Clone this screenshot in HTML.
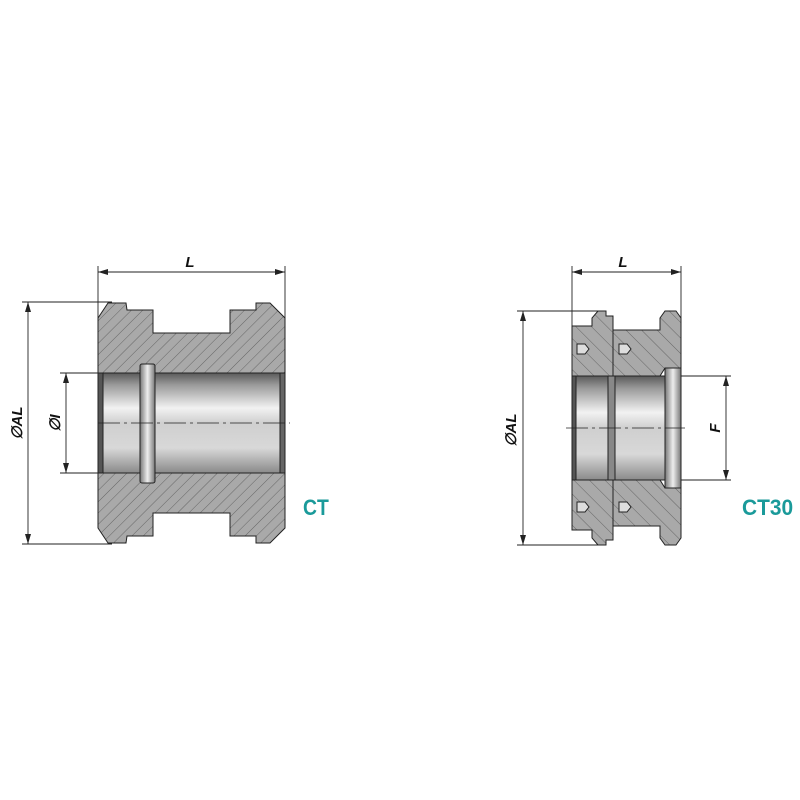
<!DOCTYPE html><html><head><style>body{margin:0;background:#fff}svg{display:block}</style></head><body>
<svg width="800" height="800" viewBox="0 0 800 800" xmlns="http://www.w3.org/2000/svg" font-family="Liberation Sans, sans-serif">
<defs>
<pattern id="h" width="8" height="8" patternUnits="userSpaceOnUse" patternTransform="rotate(45)"><rect width="8" height="8" fill="#a9a9a9"/><line x1="0" y1="0" x2="0" y2="8" stroke="#555" stroke-width="0.8"/></pattern>
<pattern id="h2" width="11" height="11" patternUnits="userSpaceOnUse" patternTransform="rotate(-45)"><rect width="11" height="11" fill="#a9a9a9"/><line x1="0" y1="0" x2="0" y2="11" stroke="#555" stroke-width="0.8"/></pattern>
<linearGradient id="g" x1="0" y1="0" x2="0" y2="1"><stop offset="0" stop-color="#5a5a5a"/><stop offset="0.12" stop-color="#9a9a9a"/><stop offset="0.35" stop-color="#f2f2f2"/><stop offset="0.5" stop-color="#cfcfcf"/><stop offset="0.75" stop-color="#d8d8d8"/><stop offset="1" stop-color="#8a8a8a"/></linearGradient>
<linearGradient id="gr" x1="0" y1="0" x2="1" y2="0"><stop offset="0" stop-color="#777"/><stop offset="0.5" stop-color="#eee"/><stop offset="1" stop-color="#777"/></linearGradient>
</defs>
<g stroke="#222" stroke-width="1">
<path d="M98,318 L108,303 L126,303 L127,310 L153,310 L153,333 L230,333 L230,310 L256,310 L256,303 L270,303 L285,318 L285,373 L98,373 Z" fill="url(#h)"/>
<path d="M98,528 L108,543 L126,543 L127,536 L153,536 L153,513 L230,513 L230,536 L256,536 L256,543 L270,543 L285,528 L285,473 L98,473 Z" fill="url(#h)"/>
<rect x="98" y="373" width="187" height="100" fill="url(#g)"/>
<rect x="98" y="373" width="5" height="100" fill="#555"/>
<rect x="280" y="373" width="5" height="100" fill="#666"/>
<rect x="140" y="364" width="15" height="119" rx="2" fill="url(#gr)"/>
<line x1="98" y1="423" x2="290" y2="423" stroke-dasharray="22,4,3,4" stroke-width="0.8"/>
<path d="M572,326 L592,326 L592,318 L598,311 L606,311 L606,316 L613,316 L613,376 L572,376 Z" fill="url(#h2)"/>
<path d="M572,530 L592,530 L592,538 L598,545 L606,545 L606,540 L613,540 L613,480 L572,480 Z" fill="url(#h2)"/>
<path d="M613,330 L660,330 L660,318 L665,311 L676,311 L681,318 L681,368 L665,368 L660,376 L613,376 Z" fill="url(#h2)"/>
<path d="M613,526 L660,526 L660,538 L665,545 L676,545 L681,538 L681,488 L665,488 L660,480 L613,480 Z" fill="url(#h2)"/>
<rect x="572" y="376" width="93" height="104" fill="url(#g)"/>
<rect x="572" y="376" width="4" height="104" fill="#555"/>
<rect x="608" y="376" width="7" height="104" fill="#888"/>
<rect x="665" y="368" width="16" height="120" fill="url(#gr)"/>
<g fill="#ddd">
<path d="M577,344 L585,344 L589,349 L585,354 L577,354 Z"/><path d="M619,344 L627,344 L631,349 L627,354 L619,354 Z"/>
<path d="M577,502 L585,502 L589,507 L585,512 L577,512 Z"/><path d="M619,502 L627,502 L631,507 L627,512 L619,512 Z"/>
</g>
<line x1="566" y1="428" x2="685" y2="428" stroke-dasharray="22,4,3,4" stroke-width="0.8"/>
</g>
<g stroke="#222" stroke-width="0.9" fill="none">
<line x1="98" y1="266" x2="98" y2="318"/><line x1="285" y1="266" x2="285" y2="318"/><line x1="98" y1="272" x2="285" y2="272"/>
<line x1="22" y1="302" x2="112" y2="302"/><line x1="22" y1="544" x2="112" y2="544"/><line x1="28" y1="302" x2="28" y2="544"/>
<line x1="60" y1="373" x2="100" y2="373"/><line x1="60" y1="473" x2="100" y2="473"/><line x1="66" y1="373" x2="66" y2="473"/>
<line x1="572" y1="266" x2="572" y2="330"/><line x1="681" y1="266" x2="681" y2="318"/><line x1="572" y1="272" x2="681" y2="272"/>
<line x1="517" y1="311" x2="600" y2="311"/><line x1="517" y1="545" x2="600" y2="545"/><line x1="523" y1="311" x2="523" y2="545"/>
<line x1="681" y1="376" x2="731" y2="376"/><line x1="681" y1="480" x2="731" y2="480"/><line x1="726" y1="376" x2="726" y2="480"/>
</g>
<g fill="#222">
<path d="M98,272 l10,-3 v6z"/><path d="M285,272 l-10,-3 v6z"/>
<path d="M28,302 l-3,10 h6z"/><path d="M28,544 l-3,-10 h6z"/>
<path d="M66,373 l-3,10 h6z"/><path d="M66,473 l-3,-10 h6z"/>
<path d="M572,272 l10,-3 v6z"/><path d="M681,272 l-10,-3 v6z"/>
<path d="M523,311 l-3,10 h6z"/><path d="M523,545 l-3,-10 h6z"/>
<path d="M726,376 l-3,10 h6z"/><path d="M726,480 l-3,-10 h6z"/>
</g>
<g font-weight="bold" font-style="italic" font-size="15" fill="#111" text-anchor="middle">
<text x="190" y="267">L</text><text x="623" y="267">L</text>
<text transform="translate(22,423) rotate(-90)">∅AL</text>
<text transform="translate(60,423) rotate(-90)">∅I</text>
<text transform="translate(516,430) rotate(-90)">∅AL</text>
<text transform="translate(720,428) rotate(-90)">F</text>
</g>
<g font-weight="bold" font-size="22" fill="#1a9a9a">
<text transform="translate(303,515) scale(0.88,1)">CT</text><text transform="translate(742,515) scale(0.95,1)">CT30</text>
</g>
</svg>
</body></html>
